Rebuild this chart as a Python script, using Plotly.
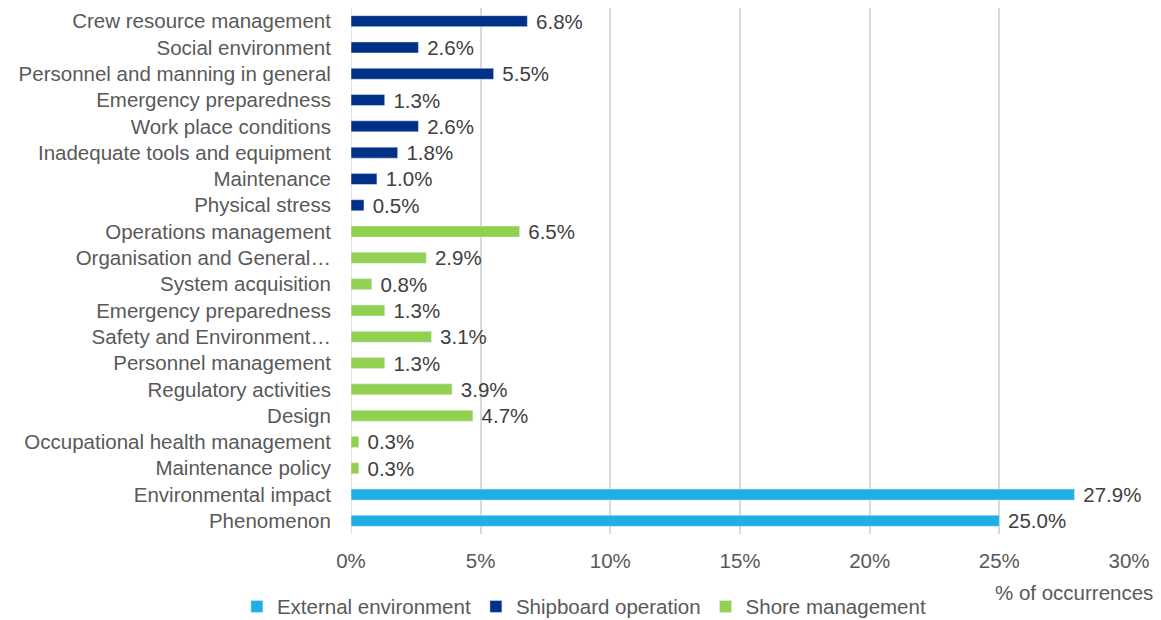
import plotly.graph_objects as go

categories = [
    "Crew resource management", "Social environment", "Personnel and manning in general",
    "Emergency preparedness", "Work place conditions", "Inadequate tools and equipment",
    "Maintenance", "Physical stress", "Operations management", "Organisation and General…",
    "System acquisition", "Emergency preparedness", "Safety and Environment…",
    "Personnel management", "Regulatory activities", "Design",
    "Occupational health management", "Maintenance policy", "Environmental impact", "Phenomenon",
]
groups = ["Shipboard operation"] * 8 + ["Shore management"] * 10 + ["External environment"] * 2
values = [6.8, 2.6, 5.5, 1.3, 2.6, 1.8, 1.0, 0.5,
          6.5, 2.9, 0.8, 1.3, 3.1, 1.3, 3.9, 4.7, 0.3, 0.3,
          27.9, 25.0]
series_order = ["External environment", "Shipboard operation", "Shore management"]
colors = {"External environment": "#1FAEE6", "Shipboard operation": "#003087",
          "Shore management": "#92D050"}

FS = 20.5
fig = go.Figure()
for s in series_order:
    ys = [i for i, g in enumerate(groups) if g == s]
    xs = [values[i] for i in ys]
    fig.add_trace(go.Bar(
        x=xs, y=ys, orientation="h", name=s, marker_color=colors[s],
        width=0.42, text=[f" {v:.1f}%" for v in xs], textposition="outside",
        constraintext="none",
        textfont=dict(size=FS, color="#404040"), cliponaxis=False,
    ))

fig.update_layout(
    width=1161, height=620, barmode="overlay",
    margin=dict(l=351, r=32, t=8, b=86, autoexpand=False),
    paper_bgcolor="white", plot_bgcolor="white",
    font=dict(family="Liberation Sans, Arial, sans-serif", size=FS, color="#595959"),
    showlegend=True,
    legend=dict(orientation="h", x=0.3, xanchor="center", y=-0.138, yanchor="middle",
                font=dict(size=FS, color="#595959"), traceorder="normal",
                itemwidth=30, tracegroupgap=0),
    annotations=[dict(text="% of occurrences", xref="paper", yref="paper",
                      x=1.033, y=-0.112, xanchor="right", yanchor="middle",
                      showarrow=False, font=dict(size=FS, color="#595959"))],
)
fig.update_xaxes(range=[0, 30], dtick=5, ticksuffix="%", showgrid=True,
                 gridcolor="#D9D9D9", gridwidth=1.5, zeroline=False,
                 ticks="outside", ticklen=8, tickcolor="rgba(0,0,0,0)",
                 tickfont=dict(size=FS, color="#595959"), showline=False, automargin=False)
fig.update_yaxes(tickmode="array", tickvals=list(range(len(categories))), ticktext=categories,
                 range=[len(categories) - 0.5, -0.5], showgrid=False, zeroline=False,
                 showline=False, ticks="outside", ticklen=15, tickcolor="rgba(0,0,0,0)",
                 tickfont=dict(size=FS, color="#595959"), automargin=False)
fig.add_shape(type="line", xref="x", yref="paper", x0=0, x1=0, y0=0, y1=1,
              line=dict(color="#D9D9D9", width=1.5), layer="below")

fig.write_html("out.html", config={"displayModeBar": False},
               post_script="document.body.style.margin='0';")
